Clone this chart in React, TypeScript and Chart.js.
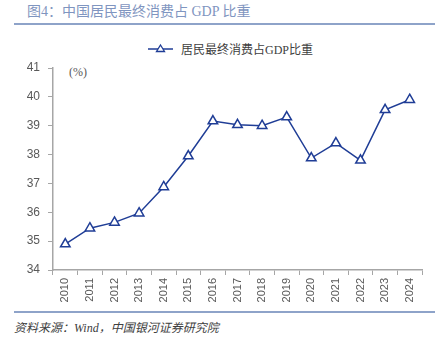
import React, { useEffect, useRef } from "react";
import { Chart, registerables } from "chart.js";

Chart.register(...registerables);

const years = ["2010", "2011", "2012", "2013", "2014", "2015", "2016", "2017", "2018", "2019", "2020", "2021", "2022", "2023", "2024"];
const shareValues = [34.9, 35.45, 35.65, 35.97, 36.88, 37.95, 39.16, 39.03, 39.0, 39.3, 37.88, 38.4, 37.8, 39.55, 39.9];
const yTicks = [34, 35, 36, 37, 38, 39, 40, 41];
const seriesName = "居民最终消费占GDP比重";
const titleText = "图4：中国居民最终消费占 GDP 比重";
const sourceText = "资料来源：Wind，中国银河证券研究院";
const unitText = "(%)";

const LINE = "#1f3d96";
const SERIF = "'Liberation Serif', 'DejaVu Serif', 'Noto Sans CJK SC', serif";
const SANS = "'Liberation Sans', Arial, 'Noto Sans CJK SC', sans-serif";

export default function App() {
  const ref = useRef<HTMLCanvasElement | null>(null);

  useEffect(() => {
    document.body.style.margin = "0";
    const ctx = ref.current!;
    const chart = new Chart(ctx, {
      type: "line",
      data: {
        labels: years,
        datasets: [
          {
            label: seriesName,
            data: shareValues,
            borderColor: LINE,
            borderWidth: 1.5,
            backgroundColor: "#ffffff",
            pointStyle: "triangle",
            pointRadius: 5.5,
            pointBorderWidth: 1.5,
            pointBorderColor: LINE,
            pointBackgroundColor: "#ffffff",
            tension: 0,
          },
        ],
      },
      options: {
        animation: false,
        responsive: false,
        maintainAspectRatio: false,
        layout: { padding: { top: 38, right: 19, left: 0, bottom: 0 } },
        plugins: {
          legend: { display: false },
          tooltip: { enabled: false },
        },
        scales: {
          x: {
            type: "category",
            offset: true,
            afterFit: (s: any) => {
              s.height = 35;
            },
            grid: {
              display: true,
              offset: true,
              drawOnChartArea: false,
              drawTicks: true,
              tickLength: 5,
              color: "#a6a6a6",
            },
            border: { display: true, color: "#a6a6a6", width: 1.5 },
            ticks: {
              minRotation: 90,
              maxRotation: 90,
              autoSkip: false,
              padding: 3,
              color: "#595959",
              font: { family: SANS, size: 11 },
            },
          },
          y: {
            min: 34,
            max: 41,
            afterFit: (s: any) => {
              s.width = 53;
            },
            afterBuildTicks: (s: any) => {
              s.ticks = yTicks.map((v) => ({ value: v }));
            },
            grid: {
              display: true,
              drawOnChartArea: false,
              drawTicks: true,
              tickLength: 5,
              color: "#a6a6a6",
            },
            border: { display: true, color: "#a6a6a6", width: 1.5 },
            ticks: {
              padding: 8,
              color: "#595959",
              font: { family: SANS, size: 12 },
            },
          },
        },
      },
    });
    return () => chart.destroy();
  }, []);

  return (
    <div style={{ position: "relative", width: 441, height: 343, background: "#fff", overflow: "hidden" }}>
      <div
        style={{
          position: "absolute",
          left: 27,
          top: 3,
          fontFamily: SERIF,
          fontSize: 14,
          color: "#7f95c0",
          whiteSpace: "nowrap",
          lineHeight: "18px",
        }}
      >
        {titleText}
      </div>
      <div style={{ position: "absolute", left: 14, top: 23, width: 421, height: 2, background: "#8ea3c9" }} />
      <div
        style={{
          position: "absolute",
          left: 148,
          top: 41,
          display: "flex",
          alignItems: "center",
          height: 16,
          whiteSpace: "nowrap",
        }}
      >
        <svg width={26} height={16} style={{ display: "block" }}>
          <line x1={0} y1={8} x2={25} y2={8} stroke={LINE} strokeWidth={1.5} />
          <polygon points="12.5,4 16.5,10.5 8.5,10.5" fill="#fff" stroke={LINE} strokeWidth={1.3} />
        </svg>
        <span style={{ marginLeft: 7, fontFamily: SERIF, fontSize: 12, color: "#404040" }}>{seriesName}</span>
      </div>
      <div
        style={{
          position: "absolute",
          left: 69,
          top: 65,
          fontFamily: SERIF,
          fontSize: 12,
          color: "#595959",
          whiteSpace: "nowrap",
        }}
      >
        {unitText}
      </div>
      <canvas ref={ref} width={441} height={275} style={{ position: "absolute", left: 0, top: 30, width: 441, height: 275 }} />
      <div style={{ position: "absolute", left: 14, top: 311, width: 421, height: 1.5, background: "#8ea3c9" }} />
      <div
        style={{
          position: "absolute",
          left: 14,
          top: 318,
          fontFamily: SERIF,
          fontSize: 12,
          fontStyle: "italic",
          color: "#404040",
          whiteSpace: "nowrap",
        }}
      >
        {sourceText}
      </div>
    </div>
  );
}
